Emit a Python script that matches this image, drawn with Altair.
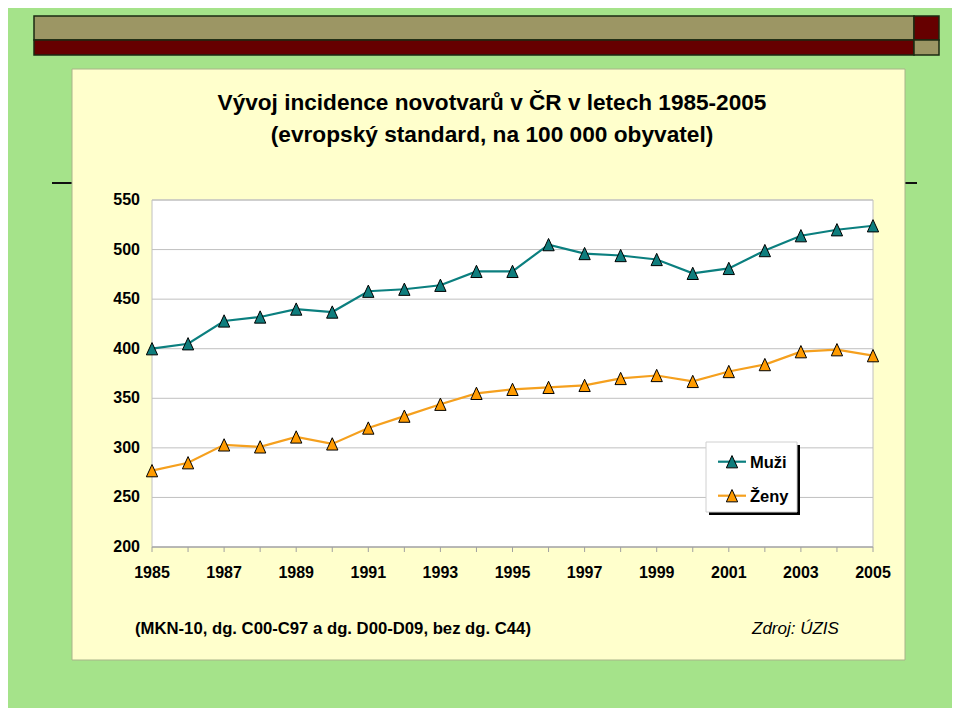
import altair as alt
import pandas as pd

# ---------------- data ----------------
years = list(range(1985, 2006))
muzi = [400, 405, 428, 432, 440, 437, 458, 460, 464, 478, 478,
        505, 496, 494, 490, 476, 481, 499, 514, 520, 524]
zeny = [277, 285, 303, 301, 311, 304, 320, 332, 344, 355, 359,
        361, 363, 370, 373, 367, 377, 384, 397, 399, 393]
series = ["Muži", "Ženy"]
line_colors = ["#0b7f7f", "#f5a01e"]
fill_colors = ["#0f7d7d", "#ff9b00"]
y_ticks = [200, 250, 300, 350, 400, 450, 500, 550]
x_labels = [1985, 1987, 1989, 1991, 1993, 1995, 1997, 1999, 2001, 2003, 2005]
title_lines = ["Vývoj incidence novotvarů v ČR v letech 1985-2005",
               "(evropský standard, na 100 000 obyvatel)"]
note_text = "(MKN-10, dg. C00-C97 a dg. D00-D09, bez dg. C44)"
source_text = "Zdroj: ÚZIS"

df = pd.DataFrame({
    "rok": years * 2,
    "hodnota": muzi + zeny,
    "pohlavi": [series[0]] * len(years) + [series[1]] * len(years),
})
grid_df = pd.DataFrame({"y": y_ticks})
xtick_df = pd.DataFrame({"rok": years})
xlab_df = pd.DataFrame({"rok": x_labels})
one = pd.DataFrame({"k": [0]})

# ---------------- layout / style ----------------
W, H = 721, 347
FONT = "Liberation Sans"
GREEN = "#a5e38a"
PANEL = "#ffffcc"
TAN = "#9c9664"
DARKRED = "#660000"
GRID = "#c0c0c0"
TRI = "M0,-1L-0.92,1L0.92,1Z"

xscale = alt.Scale(domain=[1985, 2005], nice=False, zero=False)
yscale = alt.Scale(domain=[200, 550], nice=False, zero=False)
cscale = alt.Scale(domain=series, range=line_colors)
fscale = alt.Scale(domain=series, range=fill_colors)


def rect(x1, x2, y1, y2, fill, stroke=None, sw=0):
    kw = dict(fill=fill)
    if stroke:
        kw.update(stroke=stroke, strokeWidth=sw)
    return alt.Chart(one).mark_rect(**kw).encode(
        x=alt.value(x1), x2=alt.value(x2), y=alt.value(y1), y2=alt.value(y2))


def hline(x1, x2, y, color, sw):
    return alt.Chart(one).mark_rule(color=color, strokeWidth=sw).encode(
        x=alt.value(x1), x2=alt.value(x2), y=alt.value(y))


def text(t, x, y, size, weight="bold", style="normal", align="center"):
    return alt.Chart(one).mark_text(
        text=t, font=FONT, fontSize=size, fontWeight=weight, fontStyle=style,
        align=align, baseline="alphabetic", color="black").encode(
        x=alt.value(x), y=alt.value(y))


# top decorative bar (page coords minus plot origin 152,200)
bar_tan = rect(-118, 762, -184, -160, TAN, "#1b2a12", 1.5)
bar_red_sq = rect(762, 787, -184, -160, DARKRED, "#1b2a12", 1.5)
bar_red = rect(-118, 762, -160, -145, DARKRED, "#1b2a12", 1.5)
bar_tan_sq = rect(762, 787, -160, -145, TAN, "#1b2a12", 1.5)

black_line = hline(-100, 765, -17, "#111111", 2)
panel = rect(-80, 753, -131, 460, PANEL, "#a9b48a", 1)

title1 = text(title_lines[0], 340, -90, 22.6)
title2 = text(title_lines[1], 340, -58, 22.7)
note = text(note_text, -17, 434, 16.7, align="left")
source = text(source_text, 600, 434, 17, weight="normal", style="italic", align="left")

plot_bg = rect(0, W, 0, H, "white", "#c0c0c0", 1)

grid = alt.Chart(grid_df).mark_rule(color=GRID, strokeWidth=1).encode(
    y=alt.Y("y:Q", scale=yscale, axis=None),
    x=alt.value(0), x2=alt.value(W))

# axis labels and ticks drawn through the scales
ylabels = alt.Chart(grid_df).mark_text(
    font=FONT, fontSize=16, fontWeight="bold", align="right",
    baseline="middle", color="black").encode(
    y=alt.Y("y:Q", scale=yscale, axis=None),
    x=alt.value(-12), text=alt.Text("y:Q", format="d"))

xticks = alt.Chart(xtick_df).mark_rule(color="#a0a0a0", strokeWidth=1).encode(
    x=alt.X("rok:Q", scale=xscale, axis=None),
    y=alt.value(H), y2=alt.value(H + 5))

xlabels = alt.Chart(xlab_df).mark_text(
    font=FONT, fontSize=16, fontWeight="bold", align="center",
    baseline="middle", color="black").encode(
    x=alt.X("rok:Q", scale=xscale, axis=None),
    y=alt.value(H + 26), text=alt.Text("rok:Q", format="d"))

bottom_axis = hline(0, W, H, "#a0a0a0", 1)

lines = alt.Chart(df).mark_line(strokeWidth=2.2).encode(
    x=alt.X("rok:Q", scale=xscale, axis=None),
    y=alt.Y("hodnota:Q", scale=yscale, axis=None),
    color=alt.Color("pohlavi:N", scale=cscale, legend=None),
    detail="pohlavi:N",
)

points = alt.Chart(df).mark_point(
    shape=TRI, filled=True, size=151, stroke="black", strokeWidth=1, opacity=1).encode(
    x=alt.X("rok:Q", scale=xscale, axis=None),
    y=alt.Y("hodnota:Q", scale=yscale, axis=None),
    fill=alt.Fill("pohlavi:N", scale=fscale, legend=None),
)

# custom legend
leg_shadow = rect(557, 648, 245, 315, "black")
leg_box = rect(554, 645, 242, 312, "white", "#d0d0d0", 1)
leg_items = []
for i, (name, lc, fc) in enumerate(zip(series, line_colors, fill_colors)):
    yy = 261.7 + i * 34
    leg_items.append(hline(566, 594, yy, lc, 2.2))
    leg_items.append(alt.Chart(one).mark_point(
        shape=TRI, filled=True, size=151, fill=fc, stroke="black",
        strokeWidth=1, opacity=1).encode(x=alt.value(580), y=alt.value(yy)))
    leg_items.append(text(name, 598, yy + 6, 16.5, align="left"))

chart = alt.layer(
    black_line, panel, bar_tan, bar_red_sq, bar_red, bar_tan_sq,
    title1, title2, note, source,
    plot_bg, grid, bottom_axis, xticks, ylabels, xlabels, lines, points,
    leg_shadow, leg_box, *leg_items,
).properties(
    width=W, height=H,
    autosize=alt.AutoSizeParams(type="none"),
    padding={"left": 144, "top": 192, "right": 79, "bottom": 161},
).configure(
    background=GREEN,
).configure_view(stroke=None)

chart.save("out.html", embed_options={"renderer": "svg", "actions": False})
